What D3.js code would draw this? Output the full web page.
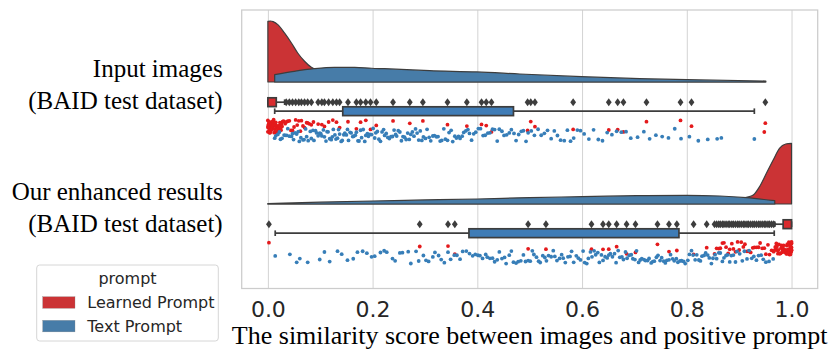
<!DOCTYPE html>
<html lang="en">
<head>
<meta charset="UTF-8">
<title>Similarity score raincloud</title>
<script src="https://d3js.org/d3.v7.min.js"></script>
<style>
  body { margin: 0; background: #fff; }
  svg { display: block; }
  .tick text { font-family: "DejaVu Sans", sans-serif; font-size: 22px; fill: #262626; }
  .serif { font-family: "Liberation Serif", "Times New Roman", serif; fill: #000; }
  .legend text { font-family: "DejaVu Sans", sans-serif; font-size: 16px; fill: #262626; }
</style>
</head>
<body>
<svg id="chart" width="831" height="361"></svg>
<script>
// ---- data ----
const groups = ["Input images", "Our enhanced results"];
const groupSub = "(BAID test dataset)";
const hues = ["Learned Prompt", "Text Prompt"];
const xTicks = [0, 0.2, 0.4, 0.6, 0.8, 1.0];

// half-violin densities, [score, relative density]
const kdeInputLearned = [[0, 0.995], [0.005, 1.0], [0.01, 0.99], [0.019, 0.94], [0.032, 0.80], [0.045, 0.64],
  [0.057, 0.475], [0.07, 0.34], [0.083, 0.24], [0.09, 0.21], [0.1, 0.165], [0.12, 0.1], [0.15, 0.05],
  [0.2, 0.02], [0.3, 0.01], [0.5, 0.007], [0.7, 0.005], [0.95, 0.004]];
const kdeInputText = [[0.013, 0.12], [0.05, 0.175], [0.088, 0.218], [0.127, 0.241], [0.166, 0.241],
  [0.198, 0.225], [0.223, 0.218], [0.309, 0.185], [0.399, 0.165], [0.481, 0.131], [0.599, 0.087],
  [0.71, 0.054], [0.8, 0.038], [0.951, 0.016]];
const kdeEnhLearned = [[0, 0.001], [0.3, 0.002], [0.6, 0.003], [0.8, 0.01], [0.85, 0.025], [0.88, 0.05],
  [0.9, 0.08], [0.914, 0.11], [0.927, 0.148], [0.939, 0.284], [0.952, 0.503], [0.965, 0.721],
  [0.977, 0.913], [0.989, 0.984], [1.0, 0.995]];
const kdeEnhText = [[0, 0.008], [0.1, 0.03], [0.2, 0.049], [0.3, 0.066], [0.4, 0.082], [0.5, 0.105],
  [0.6, 0.12], [0.704, 0.136], [0.8, 0.143], [0.863, 0.131], [0.914, 0.103], [0.968, 0.054]];

// box stats: [low whisker, q1, q3, high whisker]
const boxInputLearned = [0.0, 0.0, 0.016, 0.032];
const boxInputText = [0.013, 0.143, 0.469, 0.929];
const boxEnhLearned = [0.968, 0.984, 1.0, 1.0];
const boxEnhText = [0.014, 0.384, 0.785, 0.967];

const fliersInputLearned = [0.035, 0.041, 0.047, 0.053, 0.059, 0.064, 0.07, 0.076, 0.083, 0.096, 0.103,
  0.108, 0.116, 0.124, 0.131, 0.137, 0.153, 0.169, 0.177, 0.187, 0.196, 0.207, 0.239, 0.271, 0.296,
  0.343, 0.38, 0.408, 0.417, 0.427, 0.496, 0.502, 0.51, 0.583, 0.651, 0.668, 0.679, 0.723, 0.788,
  0.809, 0.95];
const fliersEnhLearned = [0.002, 0.29, 0.344, 0.357, 0.497, 0.531, 0.618, 0.64, 0.651, 0.666, 0.685,
  0.702, 0.744, 0.766, 0.781, 0.813, 0.838, 0.853, 0.857, 0.861, 0.864, 0.868, 0.871, 0.875, 0.879,
  0.882, 0.886, 0.889, 0.893, 0.897, 0.9, 0.904, 0.908, 0.911, 0.915, 0.918, 0.922, 0.926, 0.929,
  0.933, 0.937, 0.94, 0.944, 0.948, 0.951, 0.955, 0.958, 0.962, 0.966];

// strip (rain) points
const ptsInputLearned = [0, 0, 0, 0.001, 0.001, 0.001, 0.002, 0.002, 0.002, 0.003, 0.003, 0.004, 0.004,
  0.004, 0.005, 0.005, 0.006, 0.006, 0.007, 0.007, 0.008, 0.008, 0.009, 0.009, 0.01, 0.01, 0.011,
  0.011, 0.012, 0.012, 0.013, 0.014, 0.014, 0.015, 0.016, 0.016, 0.017, 0.018, 0.019, 0.02, 0.021,
  0.022, 0.023, 0.024, 0.025, 0.026, 0.027, 0.028, 0.03, 0.033, 0.038, 0.044, 0.05, 0.056, 0.062,
  0.067, 0.074, 0.079, 0.087, 0.035, 0.041, 0.047, 0.053, 0.059, 0.064, 0.07, 0.076, 0.083, 0.096,
  0.103, 0.108, 0.116, 0.124, 0.131, 0.137, 0.153, 0.169, 0.177, 0.187, 0.196, 0.207, 0.239, 0.271,
  0.296, 0.343, 0.38, 0.408, 0.417, 0.427, 0.496, 0.502, 0.51, 0.583, 0.651, 0.668, 0.679, 0.723,
  0.788, 0.809, 0.95, 0.948];
const ptsInputText = [0.013, 0.015, 0.019, 0.022, 0.024, 0.027, 0.031, 0.033, 0.036, 0.038, 0.041, 0.045,
  0.047, 0.049, 0.052, 0.055, 0.058, 0.06, 0.063, 0.067, 0.069, 0.072, 0.074, 0.077, 0.081, 0.083,
  0.086, 0.088, 0.091, 0.093, 0.096, 0.099, 0.101, 0.103, 0.106, 0.108, 0.111, 0.113, 0.115, 0.118,
  0.121, 0.123, 0.125, 0.128, 0.13, 0.133, 0.135, 0.137, 0.14, 0.142, 0.145, 0.147, 0.15, 0.152,
  0.154, 0.157, 0.159, 0.162, 0.164, 0.167, 0.169, 0.172, 0.174, 0.177, 0.179, 0.182, 0.185, 0.187,
  0.19, 0.192, 0.195, 0.198, 0.201, 0.204, 0.206, 0.209, 0.212, 0.215, 0.218, 0.221, 0.223, 0.226,
  0.229, 0.232, 0.235, 0.238, 0.241, 0.244, 0.246, 0.249, 0.252, 0.255, 0.258, 0.261, 0.264, 0.267,
  0.27, 0.273, 0.276, 0.279, 0.282, 0.285, 0.288, 0.291, 0.294, 0.297, 0.301, 0.304, 0.308, 0.311,
  0.315, 0.318, 0.322, 0.325, 0.329, 0.332, 0.336, 0.339, 0.343, 0.346, 0.35, 0.353, 0.357, 0.36,
  0.364, 0.367, 0.371, 0.374, 0.378, 0.382, 0.385, 0.389, 0.393, 0.397, 0.402, 0.406, 0.411, 0.415,
  0.42, 0.424, 0.429, 0.433, 0.438, 0.442, 0.447, 0.451, 0.456, 0.461, 0.465, 0.47, 0.474, 0.479,
  0.484, 0.488, 0.493, 0.497, 0.503, 0.509, 0.516, 0.522, 0.528, 0.534, 0.541, 0.547, 0.553, 0.559,
  0.566, 0.572, 0.578, 0.584, 0.591, 0.597, 0.604, 0.613, 0.622, 0.631, 0.639, 0.648, 0.657, 0.666,
  0.675, 0.684, 0.693, 0.706, 0.718, 0.729, 0.741, 0.753, 0.765, 0.777, 0.789, 0.805, 0.822, 0.84,
  0.858, 0.866, 0.929];
const ptsEnhLearned = [0.002, 0.29, 0.344, 0.357, 0.497, 0.531, 0.618, 0.64, 0.651, 0.666, 0.685, 0.702,
  0.744, 0.766, 0.781, 0.813, 0.838, 0.853, 0.857, 0.861, 0.864, 0.868, 0.871, 0.875, 0.879, 0.882,
  0.886, 0.889, 0.893, 0.897, 0.9, 0.904, 0.908, 0.911, 0.915, 0.918, 0.922, 0.926, 0.929, 0.933,
  0.937, 0.94, 0.944, 0.948, 0.951, 0.955, 0.958, 0.962, 0.966, 0.968, 0.969, 0.97, 0.971, 0.972,
  0.973, 0.974, 0.975, 0.976, 0.977, 0.978, 0.979, 0.98, 0.981, 0.982, 0.983, 0.984, 0.985, 0.986,
  0.987, 0.988, 0.989, 0.99, 0.99, 0.991, 0.991, 0.992, 0.992, 0.993, 0.993, 0.994, 0.994, 0.995,
  0.995, 0.996, 0.996, 0.997, 0.997, 0.998, 0.998, 0.999, 0.999, 1, 1, 1, 1, 1];
const ptsEnhText = [0.014, 0.042, 0.055, 0.061, 0.076, 0.099, 0.108, 0.118, 0.133, 0.141, 0.152, 0.163,
  0.171, 0.181, 0.189, 0.198, 0.204, 0.215, 0.222, 0.227, 0.238, 0.243, 0.252, 0.257, 0.268, 0.273,
  0.283, 0.288, 0.297, 0.302, 0.307, 0.315, 0.319, 0.326, 0.331, 0.337, 0.344, 0.349, 0.356, 0.361,
  0.367, 0.372, 0.379, 0.385, 0.391, 0.396, 0.401, 0.405, 0.41, 0.416, 0.419, 0.424, 0.429, 0.433,
  0.438, 0.442, 0.447, 0.452, 0.455, 0.461, 0.465, 0.469, 0.474, 0.478, 0.483, 0.488, 0.492, 0.497,
  0.501, 0.505, 0.508, 0.513, 0.517, 0.52, 0.525, 0.529, 0.532, 0.536, 0.541, 0.545, 0.548, 0.552,
  0.557, 0.561, 0.564, 0.568, 0.573, 0.577, 0.58, 0.584, 0.589, 0.593, 0.597, 0.602, 0.605, 0.609,
  0.612, 0.616, 0.619, 0.623, 0.626, 0.63, 0.633, 0.637, 0.64, 0.644, 0.648, 0.651, 0.654, 0.658,
  0.662, 0.665, 0.669, 0.672, 0.676, 0.679, 0.683, 0.686, 0.69, 0.694, 0.697, 0.701, 0.704, 0.708,
  0.711, 0.714, 0.718, 0.721, 0.725, 0.728, 0.732, 0.735, 0.738, 0.742, 0.745, 0.749, 0.752, 0.756,
  0.759, 0.762, 0.766, 0.769, 0.773, 0.776, 0.78, 0.783, 0.787, 0.79, 0.794, 0.797, 0.802, 0.805,
  0.809, 0.812, 0.816, 0.819, 0.823, 0.826, 0.829, 0.833, 0.836, 0.84, 0.843, 0.847, 0.85, 0.854,
  0.857, 0.861, 0.864, 0.868, 0.871, 0.875, 0.878, 0.882, 0.885, 0.889, 0.893, 0.896, 0.901, 0.906,
  0.91, 0.915, 0.919, 0.924, 0.928, 0.933, 0.937, 0.942, 0.946, 0.951, 0.957, 0.965];

// ---- layout ----
const svg = d3.select("#chart");
const frame = { left: 241.7, right: 817.7, top: 10, bottom: 288.5 };

const kdeFill = ["#cb3335", "#477ca8"];
const boxFill = ["#d92b2e", "#3f7cb6"];
const ptFill = ["#e41a1c", "#377eb8"];
const edge = "#3d3d3d";

const boxOffset = [20.2, 29.2];   // row centres below each violin baseline
const stripOffset = [44.3, 53];
const boxH = 8.8;

const x = d3.scaleLinear().domain([-0.05, 1.05]).range([frame.left, frame.right]);
const yBase = d3.scalePoint().domain(groups).range([82, 204]);
const dens = d3.scaleLinear().domain([0, 1]).range([0, 61]);

const series = [
  { g: 0, h: 0, kde: kdeInputLearned, box: boxInputLearned, fliers: fliersInputLearned, pts: ptsInputLearned },
  { g: 0, h: 1, kde: kdeInputText, box: boxInputText, fliers: [], pts: ptsInputText },
  { g: 1, h: 0, kde: kdeEnhLearned, box: boxEnhLearned, fliers: fliersEnhLearned, pts: ptsEnhLearned },
  { g: 1, h: 1, kde: kdeEnhText, box: boxEnhText, fliers: [], pts: ptsEnhText }
];

// grid
svg.append("g")
  .attr("transform", `translate(0,${frame.bottom})`)
  .call(d3.axisBottom(x).tickValues(xTicks).tickSize(-(frame.bottom - frame.top)).tickFormat(""))
  .call(g => g.select(".domain").remove())
  .call(g => g.selectAll("line").attr("stroke", "#d3d3d3").attr("stroke-width", 1));

// frame
svg.append("rect")
  .attr("x", frame.left).attr("y", frame.top)
  .attr("width", frame.right - frame.left).attr("height", frame.bottom - frame.top)
  .attr("fill", "none").attr("stroke", "#cccccc").attr("stroke-width", 1.25);

// clouds
series.forEach(s => {
  const base = yBase(groups[s.g]);
  const area = d3.area()
    .x(d => x(d[0]))
    .y0(base)
    .y1(d => base - dens(d[1]))
    .curve(d3.curveMonotoneX);
  svg.append("path")
    .datum(s.kde)
    .attr("d", area)
    .attr("fill", kdeFill[s.h])
    .attr("stroke", edge)
    .attr("stroke-width", 1.2)
    .attr("stroke-linejoin", "round");
});

// boxes
const diamond = "M0,-4L2.9,0L0,4L-2.9,0Z";
series.forEach(s => {
  const cy = yBase(groups[s.g]) + boxOffset[s.h];
  const [lo, q1, q3, hi] = s.box;
  const g = svg.append("g");
  [[lo, q1], [q3, hi]].forEach(([a, b]) => {
    if (b > a) g.append("line").attr("x1", x(a)).attr("x2", x(b)).attr("y1", cy).attr("y2", cy)
      .attr("stroke", edge).attr("stroke-width", 1.7);
  });
  [lo, hi].forEach(v => {
    g.append("line").attr("x1", x(v)).attr("x2", x(v)).attr("y1", cy - 2.8).attr("y2", cy + 2.8)
      .attr("stroke", edge).attr("stroke-width", 1.7);
  });
  g.append("rect")
    .attr("x", x(q1)).attr("y", cy - boxH / 2)
    .attr("width", x(q3) - x(q1)).attr("height", boxH)
    .attr("fill", boxFill[s.h]).attr("stroke", edge).attr("stroke-width", 1.7);
  g.selectAll("path.flier")
    .data(s.fliers)
    .enter().append("path")
    .attr("class", "flier")
    .attr("d", diamond)
    .attr("transform", d => `translate(${x(d)},${cy})`)
    .attr("fill", edge);
});

// rain: deterministic scatter for the vertical jitter
const jitter = (i, k) => {
  const v = Math.sin((i + 1) * 12.9898 + k * 78.233) * 43758.5453;
  return (v - Math.floor(v)) * 2 - 1;
};
series.forEach((s, k) => {
  const cy = yBase(groups[s.g]) + stripOffset[s.h];
  svg.append("g").selectAll("circle")
    .data(s.pts)
    .enter().append("circle")
    .attr("cx", d => x(d))
    .attr("cy", (d, i) => cy + jitter(i, k) * 6.6)
    .attr("r", 1.9)
    .attr("fill", ptFill[s.h]);
});

// x tick labels
svg.append("g")
  .attr("transform", `translate(0,${frame.bottom})`)
  .call(d3.axisBottom(x).tickValues(xTicks).tickSize(0).tickPadding(12.5).tickFormat(d3.format(".1f")))
  .call(g => g.select(".domain").remove());

// x label
svg.append("text")
  .attr("class", "serif")
  .attr("x", (frame.left + frame.right) / 2)
  .attr("y", 344.3)
  .attr("text-anchor", "middle")
  .attr("font-size", 26)
  .text("The similarity score between images and positive prompt");

// category labels
const labelBase = [77.3, 200];
groups.forEach((name, i) => {
  const t = svg.append("text")
    .attr("class", "serif")
    .attr("text-anchor", "end")
    .attr("font-size", 25);
  t.append("tspan").attr("x", 222.7).attr("y", labelBase[i]).text(name);
  t.append("tspan").attr("x", 222.7).attr("y", labelBase[i] + 31.7).text(groupSub);
});

// legend
const leg = svg.append("g").attr("class", "legend");
leg.append("rect")
  .attr("x", 36.7).attr("y", 265).attr("width", 181.6).attr("height", 76).attr("rx", 3)
  .attr("fill", "#fff").attr("stroke", "#d6d6d6").attr("stroke-width", 1);
leg.append("text").attr("x", 127.5).attr("y", 284.3).attr("text-anchor", "middle").text("prompt");
hues.forEach((h, i) => {
  const yTop = 296.7 + i * 23.6;
  leg.append("rect")
    .attr("x", 42.7).attr("y", yTop).attr("width", 32.3).attr("height", 11.6)
    .attr("fill", kdeFill[i]).attr("stroke", "#888").attr("stroke-width", 0.3);
  leg.append("text").attr("x", 87.3).attr("y", yTop + 11.6).text(h);
});
</script>
</body>
</html>
